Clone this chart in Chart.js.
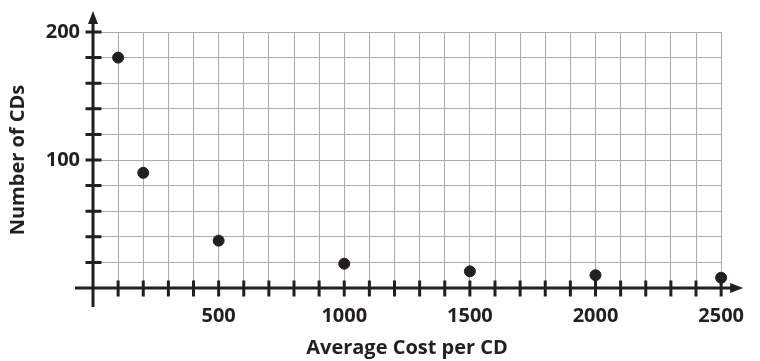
<!DOCTYPE html>
<html>
<head>
<meta charset="utf-8">
<script src="https://cdn.jsdelivr.net/npm/chart.js@4/dist/chart.umd.min.js"></script>
<style>
  html, body { margin: 0; padding: 0; background: #fff; }
  #wrap { width: 760px; height: 361px; }
</style>
</head>
<body>
<div id="wrap"><canvas id="cds"></canvas></div>
<script>
  // values
  const costs    = [100, 200, 500, 1000, 1500, 2000, 2500];
  const cdCounts = [180, 90, 37, 19, 13, 10, 8];
  const xLabels  = [500, 1000, 1500, 2000, 2500];
  const yLabels  = [100, 200];

  const ink = '#231f20';
  const font = "'Open Sans', sans-serif";

  // black axes with arrow heads and tick marks crossing the line
  const axesPlugin = {
    id: 'axes',
    beforeDatasetsDraw(chart) {
      const ctx = chart.ctx;
      const xs = chart.scales.x, ys = chart.scales.y;
      const x0 = xs.getPixelForValue(0);
      const y0 = ys.getPixelForValue(0);
      const top = ys.getPixelForValue(200);
      const right = xs.getPixelForValue(2500);
      ctx.save();
      ctx.strokeStyle = ink;
      ctx.fillStyle = ink;
      ctx.lineWidth = 3;
      ctx.beginPath();
      ctx.moveTo(x0, y0 + 19);
      ctx.lineTo(x0, top - 14);
      ctx.moveTo(x0 - 18, y0);
      ctx.lineTo(right + 14, y0);
      xs.ticks.forEach(t => {
        if (t.value === 0) return;
        const p = xs.getPixelForValue(t.value);
        ctx.moveTo(p, y0 - 7.5);
        ctx.lineTo(p, y0 + 8.5);
      });
      ys.ticks.forEach(t => {
        if (t.value === 0) return;
        const p = ys.getPixelForValue(t.value);
        ctx.moveTo(x0 - 7.5, p);
        ctx.lineTo(x0 + 8.5, p);
      });
      ctx.stroke();
      // arrow heads
      ctx.beginPath();
      ctx.moveTo(x0, top - 21);
      ctx.lineTo(x0 - 5, top - 8);
      ctx.lineTo(x0 + 5, top - 8);
      ctx.closePath();
      ctx.moveTo(right + 22, y0);
      ctx.lineTo(right + 9, y0 - 5);
      ctx.lineTo(right + 9, y0 + 5);
      ctx.closePath();
      ctx.fill();
      ctx.restore();
    }
  };

  new Chart(document.getElementById('cds'), {
    type: 'scatter',
    data: {
      datasets: [{
        data: costs.map((c, i) => ({ x: c, y: cdCounts[i] })),
        backgroundColor: ink,
        borderColor: ink,
        pointRadius: 5.5,
        pointHoverRadius: 5.5,
        clip: false
      }]
    },
    options: {
      responsive: true,
      maintainAspectRatio: false,
      animation: false,
      layout: { padding: { top: 32, right: 27, left: 0, bottom: 0 } },
      plugins: { legend: { display: false }, tooltip: { enabled: false } },
      scales: {
        x: {
          type: 'linear',
          min: 0,
          max: 2500,
          afterFit(scale) { scale.height = 73; },
          grid: { color: '#ababab', lineWidth: 1, drawTicks: false },
          border: { display: false },
          ticks: {
            stepSize: 100,
            autoSkip: false,
            maxRotation: 0,
            padding: 16,
            color: ink,
            font: { family: font, size: 20, weight: 'bold' },
            callback: v => xLabels.includes(v) ? String(v) : ''
          },
          title: {
            display: true,
            text: 'Average Cost per CD',
            color: ink,
            font: { family: font, size: 20, weight: 'bold' },
            padding: { top: 0, bottom: 1 }
          }
        },
        y: {
          type: 'linear',
          min: 0,
          max: 200,
          afterFit(scale) { scale.width = 93; },
          grid: { color: '#ababab', lineWidth: 1, drawTicks: false },
          border: { display: false },
          ticks: {
            stepSize: 20,
            autoSkip: false,
            padding: 13,
            color: ink,
            font: { family: font, size: 20, weight: 'bold' },
            callback: v => yLabels.includes(v) ? String(v) : ''
          },
          title: {
            display: true,
            text: 'Number of CDs',
            color: ink,
            font: { family: font, size: 20, weight: 'bold' },
            padding: { top: 6, bottom: 0 }
          }
        }
      }
    },
    plugins: [axesPlugin]
  });
</script>
</body>
</html>
